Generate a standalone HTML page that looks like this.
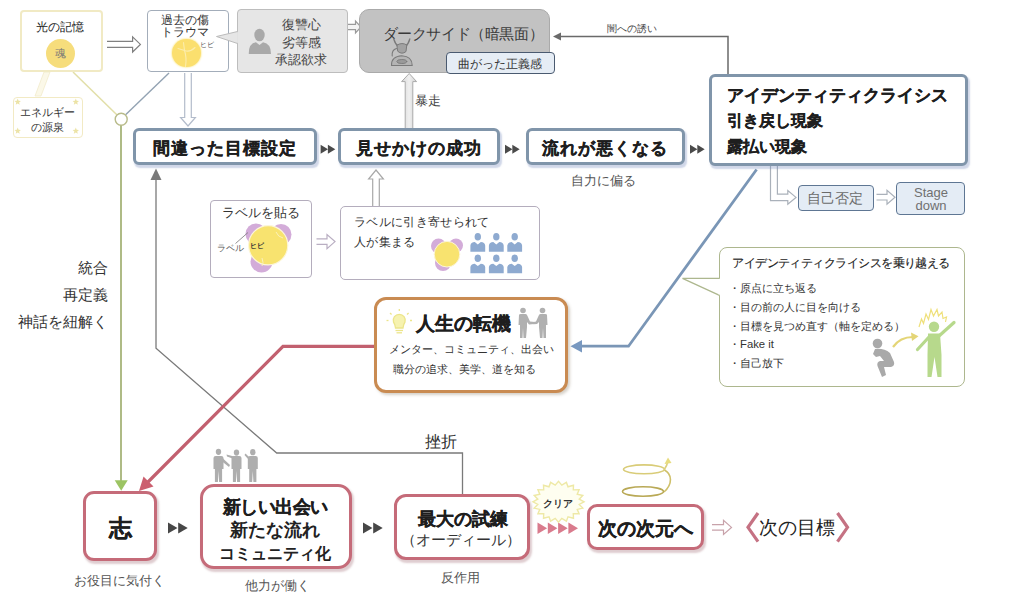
<!DOCTYPE html>
<html lang="ja"><head><meta charset="utf-8">
<style>
*{margin:0;padding:0;box-sizing:border-box}
html,body{width:1024px;height:594px;overflow:hidden;background:#fff}
body{position:relative;font-family:"Liberation Sans",sans-serif;color:#333}
.a{position:absolute}
.c{position:absolute;transform:translate(-50%,-50%);white-space:nowrap;line-height:1}
.box{position:absolute;background:#fff}
.mb{border:3px solid #8095aa;border-radius:6px;box-shadow:1.5px 2.5px 1.5px rgba(120,140,190,.35)}
.rb{border:3px solid #c56b79;border-radius:12px;box-shadow:1.5px 2.5px 2px rgba(150,90,100,.3)}
.bt{font-weight:bold;color:#1e1e1e;-webkit-text-stroke:0.3px #1e1e1e}
svg{position:absolute;left:0;top:0}
</style></head><body>
<svg width="1024" height="594" viewBox="0 0 1024 594">
<path d="M44,72 L50,72 L41,96 L35,96 Z" fill="#fbf8e8" stroke="#f1ebcc" stroke-width="0.8"/>
<line x1="73" y1="72" x2="116.8" y2="114.8" stroke="#e2dfa8" stroke-width="1.5"/>
<line x1="125.6" y1="114.8" x2="169" y2="73" stroke="#93a3b3" stroke-width="1.4"/>
<line x1="121" y1="125" x2="121" y2="481" stroke="#abb880" stroke-width="1.9"/>
<path d="M114.7,480.3 L127.7,480.3 L121.2,490.8 Z" fill="#9cc463"/>
<circle cx="121.2" cy="119.3" r="6" fill="#fff" stroke="#b8bb8a" stroke-width="1.4"/>
<path d="M107,41.4 L132.6,41.4 L132.6,36.8 L140.4,44.4 L132.6,52.0 L132.6,47.4 L107,47.4" fill="#fff" stroke="#808080" stroke-width="1.2" stroke-linejoin="miter"/>
<path d="M347.5,24.3 L355.5,24.3 L355.5,21 L361,27 L355.5,33 L355.5,29.7 L347.5,29.7" fill="#f4f4f4" stroke="#9a9a9a" stroke-width="1.2" stroke-linejoin="miter"/>
<path d="M184.7,73 L184.7,117.5 L180.6,117.5 L188,126 L195.4,117.5 L191.3,117.5 L191.3,73" fill="#fff" stroke="#b3bccb" stroke-width="1.2" stroke-linejoin="miter"/>
<defs><linearGradient id="ga" x1="0" x2="1"><stop offset="0" stop-color="#d8d8d8"/><stop offset=".5" stop-color="#f0f0f0"/><stop offset="1" stop-color="#d0d0d0"/></linearGradient></defs>
<path d="M405.2,128 L405.2,81.6 L401.6,81.6 L409.2,73.5 L416.6,81.6 L412.8,81.6 L412.8,128" fill="url(#ga)" stroke="#aaa" stroke-width="1"/>
<path d="M728,76 L728,36.5 L557,36.5" fill="none" stroke="#6a6a6a" stroke-width="1.5"/>
<path d="M553,36.5 L561,32.5 L561,40.5 Z" fill="#6a6a6a"/>
<path d="M320.6,144.7 L328.0,149.2 L320.6,153.7 Z" fill="#4a4a4a"/>
<path d="M327.90000000000003,144.7 L335.3,149.2 L327.90000000000003,153.7 Z" fill="#4a4a4a"/>
<path d="M505,144.7 L512.4,149.2 L505,153.7 Z" fill="#4a4a4a"/>
<path d="M512.3,144.7 L519.6999999999999,149.2 L512.3,153.7 Z" fill="#4a4a4a"/>
<path d="M690,144.7 L697.4,149.2 L690,153.7 Z" fill="#4a4a4a"/>
<path d="M697.3,144.7 L704.6999999999999,149.2 L697.3,153.7 Z" fill="#4a4a4a"/>
<path d="M770.5,166 L770.5,200.6 L787.8,200.6 L787.8,204.3 L796,197.4 L787.8,190.5 L787.8,194.2 L777.4,194.2 L777.4,166" fill="#fff" stroke="#aab1ba" stroke-width="1.2"/>
<path d="M876.5,194.39999999999998 L887,194.39999999999998 L887,190.2 L895,197.2 L887,204.2 L887,200.0 L876.5,200.0" fill="#fff" stroke="#aab1ba" stroke-width="1.2" stroke-linejoin="miter"/>
<path d="M756.6,169.5 L628.5,346.2 L580,346.2" fill="none" stroke="#7a96b6" stroke-width="2.8" stroke-linejoin="miter"/>
<path d="M570.5,346.2 L582,340 L582,352.4 Z" fill="#7898c0"/>
<path d="M372.7,206 L372.7,179 L368.6,179 L376,170 L383.4,179 L379.3,179 L379.3,206" fill="#fff" stroke="#a8a8a8" stroke-width="1.2" stroke-linejoin="miter"/>
<path d="M316.5,238.79999999999998 L327,238.79999999999998 L327,234.6 L335,241.6 L327,248.6 L327,244.4 L316.5,244.4" fill="#fff" stroke="#b9aec2" stroke-width="1.2" stroke-linejoin="miter"/>
<path d="M156,178 L156,348.2 L276.7,453 L462.5,453 L462.5,494" fill="none" stroke="#7a7a7a" stroke-width="1.3"/>
<path d="M156,168.5 L150.5,180 L161.5,180 Z" fill="#7a7a7a"/>
<path d="M375,346.4 L283,346.4 L147,483" fill="none" stroke="#c2606f" stroke-width="3.2" stroke-linejoin="miter"/>
<path d="M139,491 L143.5,476.5 L153.5,486.5 Z" fill="#cc5f6f"/>
<path d="M168,522.6 L177.5,528.1 L168,533.6 Z" fill="#474747"/>
<path d="M178.2,522.6 L187.7,528.1 L178.2,533.6 Z" fill="#474747"/>
<path d="M363,522.6 L372.5,528.1 L363,533.6 Z" fill="#474747"/>
<path d="M373.2,522.6 L382.7,528.1 L373.2,533.6 Z" fill="#474747"/>
<path d="M537.5,522.55 L547.1,528.3 L537.5,534.05 Z" fill="#d97b8d"/>
<path d="M547.8,522.55 L557.4,528.3 L547.8,534.05 Z" fill="#d97b8d"/>
<path d="M558.1,522.55 L567.7,528.3 L558.1,534.05 Z" fill="#d97b8d"/>
<path d="M568.4,522.55 L578.0,528.3 L568.4,534.05 Z" fill="#d97b8d"/>
<path d="M584.0,501.8 L579.2,504.4 L582.8,508.1 L577.2,509.4 L579.1,513.8 L573.3,513.7 L573.5,518.3 L568.0,516.8 L566.4,521.2 L561.8,518.4 L558.5,522.2 L555.2,518.4 L550.6,521.2 L549.0,516.8 L543.5,518.3 L543.7,513.7 L537.9,513.8 L539.8,509.4 L534.2,508.1 L537.8,504.4 L533.0,501.8 L537.8,499.2 L534.2,495.5 L539.8,494.2 L537.9,489.8 L543.7,489.9 L543.5,485.3 L549.0,486.8 L550.6,482.4 L555.2,485.2 L558.5,481.4 L561.8,485.2 L566.4,482.4 L568.0,486.8 L573.5,485.3 L573.3,489.9 L579.1,489.8 L577.2,494.2 L582.8,495.5 L579.2,499.2 Z" fill="#fefef0" stroke="#eee9a6" stroke-width="1.4"/>
<g fill="none" stroke-width="1.6"><ellipse cx="644" cy="469.3" rx="20.5" ry="4.4" stroke="#d9cc78"/><path d="M664.5,470 C672,474 673,484 664,492" stroke="#cfc06a"/><ellipse cx="643" cy="491.5" rx="20.5" ry="4.8" stroke="#b9a956"/><path d="M664,470 Q667,466 668,461" stroke="#ddd080"/></g>
<path d="M668,457.5 L664.5,464 L671.5,463 Z" fill="#e8dc80"/>
<path d="M712,524.6 L723.5,524.6 L723.5,520.4 L731.5,527.4 L723.5,534.4 L723.5,530.1999999999999 L712,530.1999999999999" fill="#fff" stroke="#c8a2aa" stroke-width="1.2" stroke-linejoin="miter"/>
<path d="M758,513 L748,527.3 L758,541.6" fill="none" stroke="#c57283" stroke-width="3.2"/>
<path d="M837.5,513 L847.5,527.3 L837.5,541.6" fill="none" stroke="#c57283" stroke-width="3.2"/>
</svg>

<!-- top-left: 光の記憶 -->
<div class="box" style="left:20px;top:10px;width:83px;height:62px;border:2px solid #f1eac4;border-radius:4px"></div>
<div class="c" style="left:59.5px;top:27px;font-size:12px;color:#222">光の記憶</div>
<div class="a" style="left:45.5px;top:38.5px;width:29px;height:29px;border-radius:50%;background:#f6dd7c"></div>
<div class="c" style="left:60px;top:53px;font-size:11px;color:#777">魂</div>

<div class="box" style="left:13px;top:96.5px;width:69.5px;height:41.5px;border:1.5px solid #f2eac4;border-radius:4px"></div>
<div class="c" style="left:47.5px;top:112px;font-size:11px;color:#333">エネルギー</div>
<div class="c" style="left:47.5px;top:126.5px;font-size:11px;color:#333">の源泉</div>

<!-- 過去の傷 -->
<div class="box" style="left:147px;top:10px;width:82px;height:62px;border:1.5px solid #a3adba;border-radius:4px"></div>
<div class="c" style="left:184.7px;top:20.5px;font-size:11.5px;color:#333">過去の傷</div>
<div class="c" style="left:184.8px;top:32.5px;font-size:11.5px;color:#333">トラウマ</div>
<div class="a" style="left:172.3px;top:38.9px;width:28.6px;height:28.6px;border-radius:50%;background:#fbdf6e;box-shadow:0 0 1.5px 1px #fdf3c0"></div>
<div class="c" style="left:207px;top:44px;font-size:7px;color:#555">ヒビ</div>

<!-- 復讐心 -->
<div class="box" style="left:237px;top:9.4px;width:110.5px;height:63.4px;background:#e6e6e6;border:1px solid #bdbdbd;border-radius:4px"></div>
<div class="c" style="left:301px;top:25px;font-size:12.5px;color:#444">復讐心</div>
<div class="c" style="left:301px;top:42.5px;font-size:12.5px;color:#444">劣等感</div>
<div class="c" style="left:301px;top:60px;font-size:12.5px;color:#444">承認欲求</div>

<!-- dark side -->
<div class="box" style="left:359px;top:8.8px;width:191px;height:64.6px;background:#c2c2c2;border:1px solid #aaa;border-radius:10px"></div>
<div class="c" style="left:463px;top:32.5px;font-size:15px;letter-spacing:-0.4px;color:#3a3a3a">ダークサイド（暗黒面）</div>
<div class="box" style="left:446px;top:52px;width:109px;height:22px;background:#e6edf5;border:1.8px solid #4a5a70;border-radius:4px"></div>
<div class="c" style="left:500px;top:63.5px;font-size:12px;color:#333">曲がった正義感</div>
<div class="c" style="left:428px;top:100.5px;font-size:12.5px;color:#444">暴走</div>
<div class="c" style="left:632px;top:29px;font-size:10px;color:#444">闇への誘い</div>

<!-- main row -->
<div class="box mb" style="left:133px;top:128.3px;width:184px;height:37px"></div>
<div class="c bt" style="left:225px;top:147.5px;font-size:17px;letter-spacing:1px">間違った目標設定</div>
<div class="box mb" style="left:337.8px;top:128.3px;width:162px;height:37px"></div>
<div class="c bt" style="left:419px;top:147.5px;font-size:17px;letter-spacing:1px">見せかけの成功</div>
<div class="box mb" style="left:525.6px;top:128.3px;width:159px;height:37px"></div>
<div class="c bt" style="left:605px;top:147.5px;font-size:17px;letter-spacing:1px">流れが悪くなる</div>
<div class="c" style="left:603.5px;top:179.5px;font-size:13px;color:#555">自力に偏る</div>

<div class="box mb" style="left:709.3px;top:74.2px;width:259px;height:91.4px"></div>
<div class="a bt" style="left:727px;top:86.5px;font-size:17px;line-height:17px;white-space:nowrap">アイデンティティクライシス</div>
<div class="a bt" style="left:727px;top:113px;font-size:16px;line-height:16px;white-space:nowrap">引き戻し現象</div>
<div class="a bt" style="left:727px;top:138.5px;font-size:16px;line-height:16px;white-space:nowrap">露払い現象</div>

<div class="box" style="left:797.8px;top:184.6px;width:76.5px;height:26px;background:#e4ecf5;border:1.5px solid #5e7693;border-radius:4px"></div>
<div class="c" style="left:835px;top:197.5px;font-size:14px;color:#6a6a6a">自己否定</div>
<div class="box" style="left:896.3px;top:182px;width:69px;height:33px;background:#e4ecf5;border:1.5px solid #5e7693;border-radius:4px"></div>
<div class="c" style="left:931px;top:192px;font-size:13px;color:#707070">Stage</div>
<div class="c" style="left:931px;top:205px;font-size:13px;color:#707070">down</div>

<!-- label boxes -->
<div class="box" style="left:209.8px;top:200.4px;width:102.7px;height:78px;border:1.2px solid #b4adbd;border-radius:4px"></div>
<div class="c" style="left:261px;top:212.5px;font-size:12.5px;color:#333">ラベルを貼る</div>
<div class="box" style="left:339.7px;top:205.8px;width:200.5px;height:74.2px;border:1.2px solid #b4adbd;border-radius:5px"></div>
<div class="a" style="left:354px;top:212px;font-size:12px;letter-spacing:0.35px;line-height:20px;color:#333;white-space:nowrap">ラベルに引き寄せられて<br>人が集まる</div>

<!-- left texts -->
<div class="a" style="right:916px;top:253.5px;font-size:15px;line-height:27px;text-align:right;color:#333;white-space:nowrap">統合<br>再定義<br>神話を紐解く</div>

<!-- 人生の転機 -->
<div class="box" style="left:374.3px;top:297.4px;width:193.8px;height:95.4px;border:3px solid #c98b52;border-radius:12px;box-shadow:2px 2px 3px rgba(90,70,40,.25)"></div>
<div class="c bt" style="left:463px;top:322.5px;font-size:19px">人生の転機</div>
<div class="c" style="left:471px;top:348.5px;font-size:10.5px;color:#333">メンター、コミュニティ、出会い</div>
<div class="c" style="left:464px;top:368.5px;font-size:10.5px;color:#333">職分の追求、美学、道を知る</div>

<!-- green callout -->
<div class="box" style="left:719px;top:247.3px;width:245.5px;height:140px;border:1.4px solid #adb78e;border-radius:8px"></div>
<div class="c" style="left:841px;top:263px;font-size:12px;letter-spacing:-0.55px;color:#222;-webkit-text-stroke:0.15px #222">アイデンティティクライシスを乗り越える</div>
<div class="a" style="left:729px;top:279px;font-size:11.3px;line-height:18.8px;color:#333;white-space:nowrap">・原点に立ち返る<br>・目の前の人に目を向ける<br>・目標を見つめ直す（軸を定める）<br>・Fake it<br>・自己放下</div>

<!-- bottom row -->
<div class="box rb" style="left:83px;top:491.2px;width:74.3px;height:70.3px;border-radius:11px"></div>
<div class="c bt" style="left:120.5px;top:527.5px;font-size:23px">志</div>
<div class="c" style="left:119.3px;top:580px;font-size:13px;color:#555">お役目に気付く</div>

<div class="box rb" style="left:200.1px;top:484.3px;width:152.4px;height:85px;border-radius:14px"></div>
<div class="c bt" style="left:275px;top:506.5px;font-size:18px;letter-spacing:-0.5px">新しい出会い</div>
<div class="c" style="left:275px;top:530px;font-size:18px;font-weight:bold;color:#222">新たな流れ</div>
<div class="c" style="left:275px;top:553.5px;font-size:16px;font-weight:bold;color:#222">コミュニティ化</div>
<div class="c" style="left:277.3px;top:584.5px;font-size:13px;color:#555">他力が働く</div>

<div class="box rb" style="left:394.1px;top:493.8px;width:135.5px;height:66.1px"></div>
<div class="c bt" style="left:462.5px;top:520px;font-size:17.5px">最大の試練</div>
<div class="c" style="left:461px;top:539px;font-size:15px;color:#333">（オーディール）</div>
<div class="c" style="left:460px;top:577.5px;font-size:12.5px;color:#555">反作用</div>
<div class="c" style="left:441px;top:442px;font-size:16px;color:#333">挫折</div>

<div class="box rb" style="left:586.6px;top:504.2px;width:117.3px;height:45.5px;border-radius:10px"></div>
<div class="c bt" style="left:645px;top:528px;font-size:19px">次の次元へ</div>
<div class="c" style="left:797px;top:527.5px;font-size:18.8px;color:#222">次の目標</div>

<svg width="1024" height="594" viewBox="0 0 1024 594">
<path d="M237.5,31.5 L216.5,36.5 L237.5,43.5" fill="#e6e6e6" stroke="#bbb" stroke-width="1"/>
<rect x="237.2" y="32.3" width="2.5" height="10.4" fill="#e6e6e6"/>
<path d="M719.5,278.3 L682.5,278.3 L719.5,295.4" fill="#fff" stroke="#adb78e" stroke-width="1.3"/>
<rect x="718.6" y="279" width="2.6" height="15.6" fill="#fff"/>
<path d="M17.7,98.6 L18.6,100.8 L20.9,100.9 L19.1,102.5 L19.7,104.8 L17.7,103.5 L15.7,104.8 L16.3,102.5 L14.5,100.9 L16.8,100.8 Z" fill="#ece3a6"/>
<path d="M75.8,98.6 L76.7,100.8 L79.0,100.9 L77.2,102.5 L77.8,104.8 L75.8,103.5 L73.8,104.8 L74.4,102.5 L72.6,100.9 L74.9,100.8 Z" fill="#ece3a6"/>
<path d="M17.7,127.6 L18.6,129.8 L20.9,129.9 L19.1,131.5 L19.7,133.8 L17.7,132.5 L15.7,133.8 L16.3,131.5 L14.5,129.9 L16.8,129.8 Z" fill="#ece3a6"/>
<path d="M75.8,127.6 L76.7,129.8 L79.0,129.9 L77.2,131.5 L77.8,133.8 L75.8,132.5 L73.8,133.8 L74.4,131.5 L72.6,129.9 L74.9,129.8 Z" fill="#ece3a6"/>
<ellipse cx="259.5" cy="35" rx="5.2" ry="6.3" fill="#a9a9a9"/><path d="M248.8,54 Q248.5,43.5 256,42.3 L259.5,45 L263,42.3 Q271,43.5 271,54 Z" fill="#a9a9a9"/>
<g stroke="#7a7a7a" stroke-width="1.3" stroke-linecap="round"><path d="M393.8,39 Q395,44 399,47" fill="none"/><path d="M409.8,39 Q408.6,44 404.8,47" fill="none"/><path d="M397.2,45 Q402,42 406.8,45 L406,51.5 Q402,55 398,51.5 Z" fill="#a2a2a2" stroke-width="1"/><path d="M396.5,48.5 Q391.5,50 392.2,56" fill="none" stroke-width="1.1"/><path d="M391.5,65.5 Q391.2,56.5 401.8,55.8 Q412.3,56.5 412.2,65.5 Z" fill="#b4b4b4" stroke-width="1.1"/><ellipse cx="401.8" cy="61.5" rx="5" ry="2" fill="#9a9a9a" stroke-width="0.9"/></g>
<g fill="none" stroke="#fdf0b8" stroke-width="1.1" stroke-linecap="round" opacity="0.85"><path d="M183.5,42.5 L184.5,50.5 L178,48.5"/><path d="M184.5,50.5 Q190,52.5 195,47.5"/><path d="M184.5,50.5 Q187,58 185.5,66.5"/></g>
<g fill="#d3acd9"><circle cx="256" cy="234" r="10.5"/><circle cx="281" cy="234.5" r="10.5"/><circle cx="261.5" cy="261.5" r="11"/></g>
<circle cx="268.2" cy="245.3" r="19.6" fill="#f8e36f" stroke="#fcf6d8" stroke-width="1.2"/>
<g fill="none" stroke="#fbf1bb" stroke-width="1"><path d="M276,232 Q278,237 283,238"/><path d="M262,258 Q264,263 262,266"/></g>
<line x1="235.5" y1="243.5" x2="248" y2="232.5" stroke="#777" stroke-width="0.8"/>
<g fill="#d3acd9"><circle cx="438.5" cy="246" r="7.5"/><circle cx="456" cy="245.5" r="7"/><circle cx="443" cy="263" r="8"/></g>
<circle cx="447" cy="254.2" r="12.8" fill="#f8e36f" stroke="#fcf6d8" stroke-width="1"/>
<ellipse cx="477.8" cy="236.70000000000002" rx="3.2" ry="3.8" fill="#8eaad0"/>
<path d="M470.40000000000003,251.70000000000002 L470.40000000000003,245.5 Q470.8,242.3 474.8,242.1 L477.8,244.4 L480.8,242.1 Q484.8,242.3 485.2,245.5 L485.2,251.70000000000002 Z" fill="#8eaad0"/>
<ellipse cx="477.8" cy="258.3" rx="3.2" ry="3.8" fill="#8eaad0"/>
<path d="M470.40000000000003,273.3 L470.40000000000003,267.1 Q470.8,263.9 474.8,263.7 L477.8,266.0 L480.8,263.7 Q484.8,263.9 485.2,267.1 L485.2,273.3 Z" fill="#8eaad0"/>
<ellipse cx="496.3" cy="236.70000000000002" rx="3.2" ry="3.8" fill="#8eaad0"/>
<path d="M488.90000000000003,251.70000000000002 L488.90000000000003,245.5 Q489.3,242.3 493.3,242.1 L496.3,244.4 L499.3,242.1 Q503.3,242.3 503.7,245.5 L503.7,251.70000000000002 Z" fill="#8eaad0"/>
<ellipse cx="496.3" cy="258.3" rx="3.2" ry="3.8" fill="#8eaad0"/>
<path d="M488.90000000000003,273.3 L488.90000000000003,267.1 Q489.3,263.9 493.3,263.7 L496.3,266.0 L499.3,263.7 Q503.3,263.9 503.7,267.1 L503.7,273.3 Z" fill="#8eaad0"/>
<ellipse cx="514.7" cy="236.70000000000002" rx="3.2" ry="3.8" fill="#8eaad0"/>
<path d="M507.30000000000007,251.70000000000002 L507.30000000000007,245.5 Q507.70000000000005,242.3 511.70000000000005,242.1 L514.7,244.4 L517.7,242.1 Q521.7,242.3 522.1,245.5 L522.1,251.70000000000002 Z" fill="#8eaad0"/>
<ellipse cx="514.7" cy="258.3" rx="3.2" ry="3.8" fill="#8eaad0"/>
<path d="M507.30000000000007,273.3 L507.30000000000007,267.1 Q507.70000000000005,263.9 511.70000000000005,263.7 L514.7,266.0 L517.7,263.7 Q521.7,263.9 522.1,267.1 L522.1,273.3 Z" fill="#8eaad0"/>
<g stroke="#ece58a" stroke-width="1.3" fill="none"><path d="M395.5,328 Q395,324 393.5,322 A6,6 0 1 1 405,322 Q403.5,324 403,328 Z" fill="#f6f2b0"/><line x1="395.5" y1="330.5" x2="403" y2="330.5"/><line x1="396.5" y1="332.8" x2="402" y2="332.8"/><line x1="399.3" y1="309" x2="399.3" y2="311"/><line x1="390" y1="313" x2="391.6" y2="314.5"/><line x1="408.6" y1="313" x2="407" y2="314.5"/><line x1="386.5" y1="320.5" x2="388.5" y2="320.5"/><line x1="410" y1="320.5" x2="412" y2="320.5"/></g>
<g fill="#b0b0b0"><circle cx="523" cy="310.5" r="2.8"/><circle cx="542.5" cy="310.5" r="2.8"/><path d="M519,315 Q519,314 521,314 L525.5,314 Q527,314 527.5,316 L530,321.5 L535,322 L534.5,324 L529,324.5 L527,322 L527,327 L526,338 L523.5,338 L523,328 L522.5,338 L520,338 L520,325 L518.5,325 Z"/><path d="M547,315 Q547,314 545,314 L540.5,314 Q539,314 538.5,316 L536,321.5 L533,322.3 L533.5,324.2 L537,324 L539,322 L539,327 L540,338 L542.5,338 L543,328 L543.5,338 L546,338 L546,325 L547.5,325 Z"/></g>
<g fill="#aeaeae"><ellipse cx="218.5" cy="451.8" rx="2.7" ry="3.1"/><path d="M213.5,458 Q213.5,456 215.7,456 L221.3,456 Q223.5,456 223.5,458 L223.5,469 L222.1,469 L222.1,482 L219.1,482 L218.5,471 L217.9,482 L214.9,482 L214.9,469 L213.5,469 Z"/><ellipse cx="236.5" cy="452.6" rx="2.7" ry="3.1"/><path d="M231.5,458 Q231.5,456 233.7,456 L239.3,456 Q241.5,456 241.5,458 L241.5,469 L240.1,469 L240.1,482 L237.1,482 L236.5,471 L235.9,482 L232.9,482 L232.9,469 L231.5,469 Z"/><ellipse cx="252.8" cy="452.2" rx="2.7" ry="3.1"/><path d="M247.8,458 Q247.8,456 250.0,456 L255.60000000000002,456 Q257.8,456 257.8,458 L257.8,469 L256.40000000000003,469 L256.40000000000003,482 L253.4,482 L252.8,471 L252.20000000000002,482 L249.20000000000002,482 L249.20000000000002,469 L247.8,469 Z"/><path d="M222.5,458 L230,465 L229,467 L221.5,461 Z"/><path d="M232.5,458.5 L227,456.5 L226.5,454.5 L234,456.5 Z"/><path d="M248.5,459.5 L244.5,455 L245.5,453.5 L250,458 Z"/></g>
<g fill="#a9a9a9"><circle cx="877.5" cy="343.5" r="4.8"/><path d="M875,349 Q884,348 890,353 L894,362 Q895,366 891,367 L884,367 L886,375 L882,377 L877.5,366 Q876.5,362 880,361 L884,361 L880,356 L876,357 L873,354 Z"/></g>
<path d="M893,347 Q900,337 913,337" fill="none" stroke="#e4d577" stroke-width="2.2"/>
<path d="M918.5,336.3 L911,332.5 L912,341 Z" fill="#e4d577"/>
<g fill="#b7d98c" stroke="#b7d98c"><circle cx="934" cy="326.8" r="5.2" stroke="none"/><path d="M928,333.5 L940,333.5 L941.5,355 L941.5,377 L937.5,377 L934.5,357 L931.5,377 L927.5,377 L927.5,355 Z" stroke="none"/><line x1="929" y1="337" x2="917.5" y2="349.5" stroke-width="3.2" stroke-linecap="round"/><line x1="939" y1="336" x2="954" y2="322.5" stroke-width="3.2" stroke-linecap="round"/></g>
<path d="M919,327 L921.5,319 L923.5,323.5 L926,314 L928.5,319.5 L931,309.5 L933.5,316 L937,309.5 L938.5,316 L942,312 L943,318.5 L946.5,317 L945.5,322" fill="none" stroke="#efe07a" stroke-width="1.2"/>
</svg>
<div class="c" style="left:230.3px;top:248px;font-size:8.5px;color:#555">ラベル</div>
<div class="c" style="left:256.5px;top:244.5px;font-size:7px;font-weight:bold;color:#333">ヒビ</div>
<div class="c" style="left:557.5px;top:503.5px;font-size:10px;font-weight:bold;color:#333">クリア</div>
</body></html>
